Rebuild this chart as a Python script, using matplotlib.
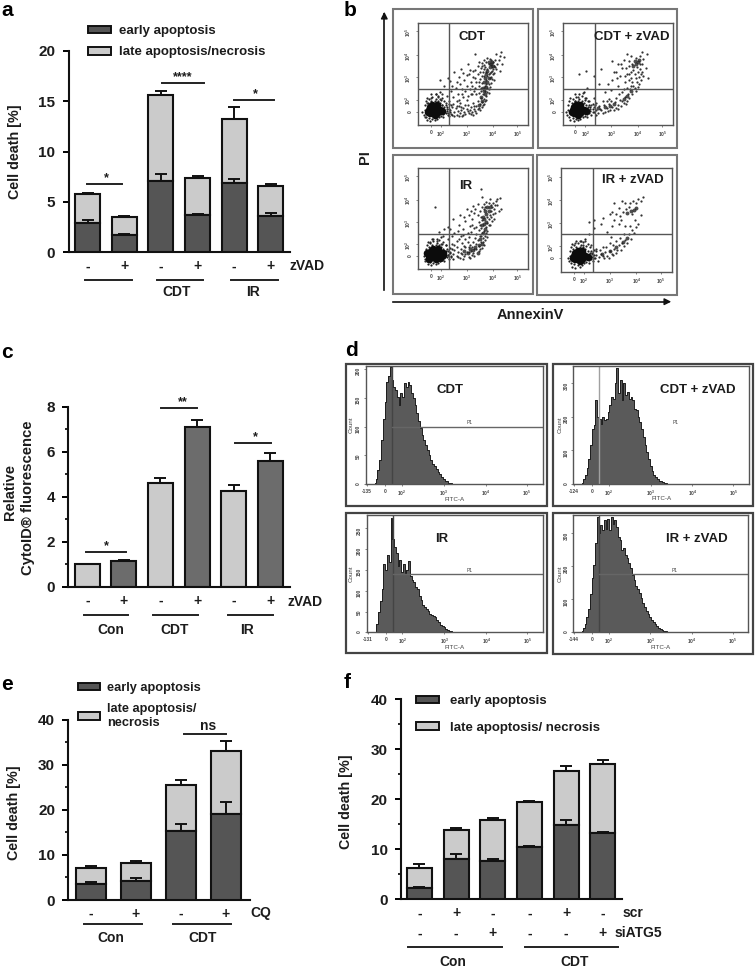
import matplotlib
matplotlib.use("Agg")
import matplotlib.pyplot as plt
from matplotlib.lines import Line2D
from matplotlib.patches import Patch, Rectangle

plt.rcParams['font.family'] = ['Liberation Sans', 'DejaVu Sans']
plt.rcParams['font.weight'] = 'bold'
plt.rcParams['axes.labelweight'] = 'bold'
plt.rcParams['mathtext.default'] = 'regular'

W, H = 756, 969
DARK, LIGHT, MID, INK = '#555555', '#cbcbcb', '#6c6c6c', '#1c1c1c'

# ---- bar data -------------------------------------------------------------
a_signs = ['-', '+', '-', '+', '-', '+']
a_early = [2.9, 1.7, 7.1, 3.7, 6.85, 3.6]
a_early_err = [0.35, 0.1, 0.7, 0.1, 0.45, 0.3]
a_total = [5.8, 3.5, 15.6, 7.4, 13.25, 6.6]
a_total_err = [0.05, 0.15, 0.45, 0.15, 1.15, 0.2]

c_signs = ['-', '+', '-', '+', '-', '+']
c_values = [1.0, 1.15, 4.6, 7.1, 4.25, 5.6]
c_err = [0.02, 0.07, 0.25, 0.3, 0.28, 0.33]

e_signs = ['-', '+', '-', '+']
e_early = [3.6, 4.3, 15.3, 19.0]
e_early_err = [0.5, 0.6, 1.6, 2.8]
e_total = [7.0, 8.2, 25.6, 33.1]
e_total_err = [0.6, 0.4, 1.0, 2.2]

f_scr = ['-', '+', '-', '-', '+', '-']
f_si = ['-', '-', '+', '-', '-', '+']
f_early = [2.3, 8.0, 7.7, 10.5, 14.9, 13.2]
f_early_err = [0.15, 1.0, 0.4, 0.1, 1.0, 0.3]
f_total = [6.2, 13.8, 15.8, 19.5, 25.6, 27.1]
f_total_err = [0.8, 0.5, 0.4, 0.2, 1.0, 0.7]

# ---- flow cytometry dot plots: (annexin, PI), 0-100 ----
blob_core = [(15, 15), (12, 15), (18, 15), (10, 15), (20, 15), (14, 12), (17, 12), (11, 12), (14, 18), (17, 18), (11, 18),
             (15, 10), (13, 20), (17, 20), (22, 14), (9, 13)]
blob_fuzz = [(5, 10), (6, 15), (6, 20), (7, 8), (7, 24), (8, 5), (9, 22), (10, 7), (10, 26), (11, 4), (12, 24), (13, 6), (13, 28),
             (15, 5), (15, 24), (16, 30), (17, 6), (18, 24), (18, 29), (19, 8), (20, 22), (20, 32), (21, 9), (22, 20), (22, 27),
             (23, 11), (24, 18), (24, 24), (25, 12), (25, 20), (26, 14), (26, 18), (27, 10), (28, 16), (28, 21), (29, 13),
             (30, 20), (4, 13), (8, 27), (23, 8), (31, 10), (16, 26), (12, 30), (21, 25)]

cdt_blob = [(x + 0, y + 0) for x, y in blob_core]
cdt_dense = [(65, 57), (63, 53), (66, 60), (62, 50), (60, 42), (61, 30), (58, 24), (55, 20), (64, 46), (68, 58), (62, 37),
             (67, 62), (64, 62), (61, 46), (59, 36), (57, 28), (63, 42), (60, 33)]
cdt_dots = [(24, 14), (26, 16), (27, 12), (29, 15), (30, 11), (31, 18), (33, 13), (34, 17), (35, 10), (36, 14), (37, 19),
            (38, 12), (39, 15), (40, 9), (41, 17), (42, 13), (43, 11), (44, 16), (45, 20), (46, 12), (47, 15), (48, 18),
            (49, 13), (50, 22), (51, 16), (52, 14), (53, 19), (54, 24), (55, 17), (56, 21), (57, 27), (58, 23), (59, 30),
            (60, 26), (61, 33), (62, 29), (63, 36), (59, 35), (64, 40), (62, 44), (65, 46), (60, 48), (66, 52), (63, 55),
            (67, 57), (64, 60), (68, 62), (66, 59), (69, 58), (62, 62), (70, 64), (65, 65), (72, 60), (71, 55), (68, 50),
            (67, 45), (66, 41), (65, 37), (63, 32), (61, 38), (58, 41), (56, 45), (54, 50), (52, 54), (50, 47), (48, 42),
            (46, 50), (44, 38), (42, 44), (40, 35), (38, 40), (36, 30), (34, 36), (32, 28), (30, 33), (28, 24), (26, 29),
            (24, 38), (22, 30), (20, 26), (18, 28), (16, 30), (12, 27), (20, 44), (27, 46), (33, 52), (39, 55), (45, 60),
            (52, 70), (75, 72), (78, 67), (74, 53), (76, 60), (55, 62), (58, 58), (60, 55), (62, 52), (64, 50), (48, 30),
            (52, 36), (55, 31), (44, 25), (37, 25), (41, 28), (53, 42), (57, 36), (25, 22), (22, 20), (8, 22), (6, 8), (28, 9),
            (32, 21), (35, 24), (38, 22), (40, 30), (43, 33), (45, 29), (47, 35), (49, 38), (51, 33), (53, 30), (55, 38),
            (56, 52), (58, 48), (59, 52), (60, 59), (61, 57), (57, 56), (54, 58), (50, 53), (47, 54), (44, 49), (41, 51),
            (37, 47), (35, 42), (31, 38), (29, 43), (60, 36), (62, 40), (64, 35), (63, 48), (65, 51), (67, 53), (69, 51),
            (70, 57), (68, 55), (66, 64), (63, 66), (60, 64), (58, 61), (73, 64), (74, 68), (71, 70), (45, 14), (48, 11),
            (50, 10), (53, 12), (56, 15), (58, 18), (60, 21), (62, 25), (59, 20), (54, 16), (51, 19), (43, 20), (39, 18),
            (35, 19), (41, 10), (37, 9), (33, 9), (57, 33), (61, 24), (64, 31), (66, 47), (69, 44), (55, 42), (52, 46), (49, 30)]

cz_blob = [(x - 1, y) for x, y in blob_core]
cz_dense = [(66, 60), (68, 62), (64, 58), (69, 64), (32, 17), (38, 18), (46, 21), (55, 26), (62, 33), (65, 63), (43, 19), (58, 29)]
cz_dots = [(25, 16), (27, 13), (28, 18), (30, 15), (32, 12), (33, 19), (35, 15), (37, 20), (38, 13), (40, 17), (42, 21),
           (43, 15), (45, 18), (47, 23), (48, 17), (50, 20), (52, 25), (53, 19), (55, 22), (56, 28), (58, 24), (59, 30),
           (60, 27), (61, 35), (63, 30), (64, 38), (66, 33), (67, 42), (68, 37), (69, 47), (71, 44), (72, 52), (73, 48),
           (70, 55), (72, 60), (73, 65), (70, 68), (66, 66), (62, 68), (58, 70), (55, 64), (60, 58), (62, 52), (58, 50),
           (54, 56), (50, 60), (52, 48), (48, 52), (45, 44), (56, 42), (50, 38), (44, 34), (38, 32), (33, 40), (28, 27),
           (24, 24), (20, 27), (18, 31), (14, 28), (11, 24), (22, 36), (15, 50), (21, 53), (28, 48), (35, 55), (45, 63),
           (72, 72), (76, 70), (75, 56), (77, 46), (65, 50), (60, 44), (54, 32), (42, 26), (60, 63), (63, 60), (57, 56),
           (62, 46), (64, 54), (67, 57), (70, 60), (71, 50), (68, 52), (66, 46), (63, 42), (60, 50), (56, 48), (53, 60),
           (49, 46), (46, 52), (41, 40), (36, 24), (40, 24), (44, 24), (48, 27), (51, 30), (55, 35), (58, 36), (62, 38),
           (65, 36), (69, 40), (30, 22), (26, 20), (34, 16), (36, 12), (41, 14), (46, 15), (50, 16), (54, 24), (57, 21)]

ir_blob = [(x + 1, y) for x, y in blob_core] + [(23, 16), (8, 16), (10, 10), (20, 11)]
ir_dense = [(62, 55), (60, 50), (64, 58), (58, 44), (61, 40), (56, 30), (52, 22), (47, 20), (42, 18), (63, 62), (58, 25), (54, 16),
            (61, 58), (65, 62), (60, 45), (59, 36), (55, 24), (50, 19), (45, 16), (59, 52), (62, 47)]
ir_dots = [(27, 14), (29, 17), (30, 12), (32, 15), (33, 19), (35, 13), (36, 17), (38, 11), (39, 20), (40, 15), (42, 13),
           (43, 22), (44, 17), (46, 12), (47, 24), (48, 18), (49, 14), (50, 27), (51, 20), (53, 25), (54, 29), (55, 23),
           (56, 33), (57, 27), (58, 36), (59, 31), (60, 38), (61, 33), (62, 42), (63, 46), (64, 50), (65, 54), (66, 58),
           (67, 62), (68, 66), (69, 60), (70, 64), (71, 68), (72, 70), (74, 71), (65, 70), (62, 67), (58, 62), (56, 58),
           (60, 60), (57, 52), (55, 47), (53, 42), (51, 56), (49, 50), (47, 43), (45, 36), (43, 48), (41, 40), (39, 33),
           (37, 44), (35, 28), (33, 36), (31, 25), (29, 40), (27, 30), (25, 24), (23, 33), (21, 25), (19, 37), (17, 28),
           (14, 30), (11, 27), (27, 42), (32, 50), (38, 54), (44, 60), (50, 63), (58, 72), (57, 80), (15, 62), (75, 60),
           (67, 48), (65, 44), (63, 38), (61, 29), (58, 21), (55, 18), (50, 16), (45, 27), (40, 26), (35, 22), (24, 40), (6, 8),
           (33, 24), (37, 30), (41, 34), (43, 30), (46, 32), (48, 37), (51, 41), (53, 35), (55, 39), (56, 44), (58, 49),
           (54, 54), (52, 60), (48, 58), (46, 54), (42, 52), (36, 38), (31, 33), (63, 52), (61, 62), (60, 65), (64, 66),
           (66, 64), (68, 55), (69, 50), (70, 56), (66, 52), (64, 44), (62, 36), (59, 27), (57, 33), (53, 20), (49, 22),
           (46, 22), (42, 23), (39, 16), (36, 12), (43, 15), (46, 17), (51, 13), (56, 20), (60, 24), (47, 11), (41, 10),
           (72, 64), (73, 58), (54, 65), (49, 44), (52, 31), (57, 41), (63, 32)]

iz_blob = [(x + 2, y) for x, y in blob_core]
iz_dense = [(63, 59), (66, 60), (60, 57), (68, 62), (50, 24), (56, 29), (60, 33), (44, 20), (37, 17)]
iz_dots = [(26, 14), (28, 17), (30, 13), (32, 16), (34, 14), (36, 17), (38, 15), (40, 19), (42, 15), (44, 20), (46, 17),
           (48, 22), (50, 18), (52, 26), (54, 21), (55, 28), (57, 25), (58, 31), (60, 28), (61, 36), (63, 32), (64, 40),
           (66, 37), (62, 44), (68, 43), (67, 50), (58, 44), (54, 50), (50, 56), (52, 62), (48, 66), (46, 58), (55, 68),
           (58, 66), (62, 66), (65, 68), (68, 66), (70, 70), (72, 68), (74, 72), (52, 46), (46, 44), (42, 38), (36, 46),
           (30, 42), (25, 36), (22, 30), (27, 26), (20, 26), (17, 30), (13, 28), (25, 48), (30, 50), (38, 52), (44, 56),
           (72, 55), (70, 46), (44, 28), (38, 24), (32, 22), (59, 61), (61, 63), (64, 56), (56, 58), (53, 54), (48, 50),
           (45, 34), (50, 30), (53, 33), (57, 36), (47, 26), (41, 24), (35, 21), (39, 13), (43, 13), (47, 16), (51, 21)]

# ---- histograms: counts read at 1% steps of the axis width, from 5% onward -
h_start = 5
h_cdt = [2, 10, 25, 42, 77, 114, 143, 178, 187, 204, 181, 169, 163, 152, 138, 158, 152, 175, 169, 178, 172, 158, 149, 138,
         123, 109, 97, 86, 77, 68, 60, 51, 42, 35, 31, 26, 22, 18, 13, 9, 6, 5, 3, 2, 1, 1]
h_cdt_z = [3, 15, 28, 48, 75, 115, 165, 175, 250, 200, 195, 180, 200, 190, 195, 215, 235, 260, 255, 300, 345, 270, 310, 250,
           300, 265, 275, 255, 260, 250, 225, 220, 200, 185, 165, 140, 115, 95, 75, 55, 38, 28, 20, 14, 10, 8, 5, 4, 3, 1]
h_ir = [3, 20, 48, 75, 105, 165, 150, 185, 170, 275, 225, 205, 190, 160, 175, 145, 165, 140, 150, 172, 135, 125, 120, 110,
        105, 88, 78, 66, 60, 55, 52, 45, 42, 38, 36, 30, 24, 18, 15, 12, 9, 6, 4, 2, 1]
h_ir_z = [3, 12, 25, 45, 70, 115, 165, 205, 270, 350, 300, 325, 310, 340, 315, 345, 310, 350, 330, 340, 320, 290, 280, 250,
          255, 235, 225, 210, 195, 175, 160, 140, 130, 118, 105, 90, 78, 65, 55, 45, 38, 30, 24, 18, 14, 10, 7, 4, 3, 1]

fig = plt.figure(figsize=(W / 100, H / 100), dpi=100, facecolor='white')


def ax_px(l, t, r, b):
    return fig.add_axes([l / W, 1 - b / H, (r - l) / W, (b - t) / H])


def label(x, y, s, size=9.5, ha='center', rot=0, weight='bold', color=INK):
    fig.text(x / W, 1 - y / H, s, ha=ha, va='center', fontsize=size, rotation=rot,
             fontweight=weight, color=color, rotation_mode='anchor' if rot else 'default')


def rule(x0, x1, y, lw=1.4, color='#222222'):
    fig.add_artist(Line2D([x0 / W, x1 / W], [1 - y / H, 1 - y / H], color=color, lw=lw))


def sig(x0, x1, y, s, xs, size=9):
    rule(x0, x1, y)
    label(xs, y - (6 if s != 'ns' else 8), s, size=size)


def bar_axes(box, first, step, top, major, minor, signs, width):
    l, t, r, b = box
    ax = ax_px(l, t, r, b)
    ax.set_xlim((l - first) / step, (r - first) / step)
    ax.set_ylim(0, top)
    ax.patch.set_alpha(0)
    for s in ('top', 'right'):
        ax.spines[s].set_visible(False)
    for s in ('left', 'bottom'):
        ax.spines[s].set_linewidth(1.5)
        ax.spines[s].set_color('#111111')
    ax.set_yticks(major)
    ax.set_yticks(minor, minor=True)
    ax.tick_params(axis='y', which='major', length=4.5, width=1.4, labelsize=11, pad=5, labelcolor=INK)
    ax.tick_params(axis='y', which='minor', length=2.5, width=1.2)
    ax.set_xticks(range(len(signs)), signs)
    ax.tick_params(axis='x', length=0, pad=5, labelsize=10, labelcolor=INK)
    return ax, width / step


def stacked(ax, width, early, early_err, total, total_err):
    x = range(len(early))
    late = [t - e for t, e in zip(total, early)]
    ekw = dict(ecolor='#111111', elinewidth=1.4, capthick=1.4, capsize=4.5, fmt='none')
    ax.bar(x, late, width, bottom=early, color=LIGHT, edgecolor='#111111', linewidth=1.5, zorder=2)
    ax.errorbar(x, total, yerr=[[0] * len(x), total_err], zorder=1, **ekw)
    ax.bar(x, early, width, color=DARK, edgecolor='#111111', linewidth=1.5, zorder=3)
    ax.errorbar(x, early, yerr=[[0] * len(x), early_err], zorder=4, **ekw)


def legend_px(ax, x, y, labels, spacing, pad=0.55, size=9.5):
    h = [Patch(facecolor=DARK, edgecolor='#111111', lw=1.4),
         Patch(facecolor=LIGHT, edgecolor='#111111', lw=1.4)]
    leg = ax.legend(h, labels, loc='upper left', bbox_to_anchor=(x / W, 1 - y / H),
                    bbox_transform=fig.transFigure, frameon=False, fontsize=size,
                    handlelength=1.75, handleheight=0.5, handletextpad=pad,
                    labelspacing=spacing, borderpad=0, borderaxespad=0,
                    labelcolor=INK)
    return leg


# ---- panel a --------------------------------------------------------------
ax, wd = bar_axes((68.5, 51, 290, 252.3), 87.7, 36.6, 20, [0, 5, 10, 15, 20], [], a_signs, 25)
stacked(ax, wd, a_early, a_early_err, a_total, a_total_err)
legend_px(ax, 88.3, 25, ['early apoptosis', 'late apoptosis/necrosis'], 0.72)
ax.set_ylabel('Cell death [%]', fontsize=10.3, color=INK, labelpad=0)
ax.yaxis.set_label_coords((21.7 - 68.5) / 221.5, 0.5)
label(306.7, 265.7, 'zVAD', 10)
for x0, x1 in [(85, 131.7), (156.7, 203.3), (231, 277.7)]:
    rule(x0, x1, 280.3)
label(176.7, 292, 'CDT', 10)
label(253.3, 292, 'IR', 10)
sig(86.7, 122.3, 184.3, '*', 106)
sig(161.7, 204, 83, '****', 183)
sig(234.3, 274.3, 100, '*', 255.7)

# ---- panel c --------------------------------------------------------------
ax, wd = bar_axes((68.3, 406.7, 290, 587), 87.3, 36.6, 8, [0, 2, 4, 6, 8], [1, 3, 5, 7], c_signs, 25)
ax.bar(range(6), c_values, wd, color=[LIGHT, MID] * 3, edgecolor='#111111', linewidth=1.5, zorder=2)
ax.errorbar(range(6), c_values, yerr=[[0] * 6, c_err], fmt='none', ecolor='#111111',
            elinewidth=1.4, capthick=1.4, capsize=4.5, zorder=1)
label(10, 491.7, 'Relative', 10.5, rot=90)
label(28, 498, 'CytoID® fluorescence', 10.7, rot=90)
label(305, 601.7, 'zVAD', 10)
for x0, x1 in [(84, 128.3), (153.3, 198.3), (228.3, 272.7)]:
    rule(x0, x1, 614.7)
label(110.7, 630, 'Con', 10)
label(175, 630, 'CDT', 10)
label(247.3, 630, 'IR', 10)
sig(85.7, 126, 552, '*', 106)
sig(161, 196.7, 408.3, '**', 182.7)
sig(235, 270.7, 443, '*', 255)

# ---- panel e --------------------------------------------------------------
ax, wd = bar_axes((68.3, 719.7, 250, 900), 91, 45, 40, [0, 10, 20, 30, 40], [5, 15, 25, 35], e_signs, 30.7)
stacked(ax, wd, e_early, e_early_err, e_total, e_total_err)
legend_px(ax, 77.7, 682, ['early apoptosis', 'late apoptosis/\nnecrosis'], 0.72, size=9.2)
ax.set_ylabel('Cell death [%]', fontsize=10.3, color=INK)
ax.yaxis.set_label_coords((20.7 - 68.3) / 181.7, 0.485)
label(261, 913, 'CQ', 10)
rule(84, 141.7, 924)
rule(172.7, 230.7, 924)
label(110.7, 937.7, 'Con', 10)
label(202.3, 937.7, 'CDT', 10)
sig(184, 225.7, 734, 'ns', 208, size=10)

# ---- panel f --------------------------------------------------------------
ax, wd = bar_axes((401, 699.3, 621.7, 899.3), 419.3, 36.7, 40, [0, 10, 20, 30, 40], [5, 15, 25, 35], f_scr, 25)
stacked(ax, wd, f_early, f_early_err, f_total, f_total_err)
legend_px(ax, 416, 695, ['early apoptosis', 'late apoptosis/ necrosis'], 1.1, pad=0.85)
ax.set_ylabel('Cell death [%]', fontsize=10.3, color=INK)
ax.yaxis.set_label_coords((352.7 - 401) / 220.7, 0.49)
for i, s in enumerate(f_si):
    label(ax.transData.transform((i, 0))[0], 933.3, s, 10)
label(622.3, 913.3, 'scr', 10, ha='left')
label(615, 933.3, 'siATG5', 10, ha='left')
rule(407.7, 501.7, 946.7)
rule(525, 618.3, 946.7)
label(453.3, 962.3, 'Con', 10)
label(575, 962.3, 'CDT', 10)


# ---- panel b --------------------------------------------------------------
def frame(l, t, r, b, color='#777777', lw=1.5):
    fig.add_artist(Rectangle((l / W, 1 - b / H), (r - l) / W, (b - t) / H, fill=False,
                             edgecolor=color, lw=lw, transform=fig.transFigure))


def dot_panel(outer, inner, gate_x, gate_y, blob, dense, dots, name, name_xy, shift):
    frame(*outer)
    ax = ax_px(*inner)
    ax.set_xlim(0, 100)
    ax.set_ylim(0, 100)
    for s in ax.spines.values():
        s.set_color('#555555')
        s.set_linewidth(1.0)
    ax.scatter(*zip(*dots), s=2.6, color='#333333', linewidths=0)
    ax.scatter([p[0] + shift for p in blob_fuzz], [p[1] for p in blob_fuzz], s=2.6, color='#222222', linewidths=0)
    ax.scatter(*zip(*dense), s=8, color='#222222', linewidths=0, alpha=0.8)
    ax.scatter(*zip(*blob), s=30, color='#0c0c0c', linewidths=0)
    ax.axvline(gate_x, color='#555555', lw=1.0)
    ax.axhline(gate_y, color='#555555', lw=1.0)
    ax.set_xticks([11.5, 20.5, 44, 68, 90], ['0', '$10^2$', '$10^3$', '$10^4$', '$10^5$'])
    ax.set_yticks([13, 25, 47, 69, 92], ['0', '$10^2$', '$10^3$', '$10^4$', '$10^5$'])
    ax.tick_params(length=1.5, width=0.5, labelsize=3.5, pad=2, color='#555555', labelcolor='#444444')
    ax.tick_params(axis='y', labelrotation=90)
    label(name_xy[0], name_xy[1], name, 9.5)


dot_panel((392.7, 9, 533.3, 148), (418, 23.3, 528.3, 125), 28.4, 35.6, cdt_blob, cdt_dense, cdt_dots, 'CDT', (472.3, 36.7), 0)
dot_panel((538.3, 9, 676.7, 148), (562.7, 23.3, 673.3, 125), 29.2, 35.6, cz_blob, cz_dense, cz_dots, 'CDT + zVAD', (631.7, 36.7), -1)
dot_panel((392.7, 155, 533.3, 294), (418, 168.3, 528.3, 269.3), 28.4, 34.6, ir_blob, ir_dense, ir_dots, 'IR', (465.3, 186), 1)
dot_panel((537.3, 155, 676.7, 295), (561, 168.3, 671.7, 271.7), 29, 36, iz_blob, iz_dense, iz_dots, 'IR + zVAD', (633.3, 180), 2)

fig.add_artist(plt.Line2D([384.3 / W] * 2, [1 - 290 / H, 1 - 14 / H], color='#111111', lw=1.2))
fig.add_artist(plt.Line2D([392.7 / W, 668 / W], [1 - 301.7 / H] * 2, color='#111111', lw=1.2))
bg = fig.add_axes([0, 0, 1, 1], zorder=-1)
bg.axis('off')
bg.set_xlim(0, W)
bg.set_ylim(H, 0)
bg.annotate('', xy=(384.3, 9), xytext=(384.3, 20), arrowprops=dict(arrowstyle='-|>', color='#111111', lw=1, mutation_scale=10))
bg.annotate('', xy=(674, 301.7), xytext=(662, 301.7), arrowprops=dict(arrowstyle='-|>', color='#111111', lw=1, mutation_scale=10))
label(365, 156.7, 'PI', 10.5, rot=90)
label(530, 315, 'AnnexinV', 10.5)


# ---- panel d --------------------------------------------------------------
def hist_panel(outer, inner, heights, top, yticks, low, gate_x, gate_y, name, name_xy, p1_xy, gate_color='#444444'):
    frame(*outer, color='#444444', lw=1.6)
    ax = ax_px(*inner)
    ax.set_xlim(0, 100)
    ax.set_ylim(0, top)
    for s in ax.spines.values():
        s.set_color('#555555')
        s.set_linewidth(1.0)
    xs = [h_start + i for i in range(len(heights))]
    ax.fill_between(xs, heights, step='mid', color='#5a5a5a', linewidth=0)
    ax.step(xs, heights, where='mid', color='#1e1e1e', lw=0.7)
    ax.axvline(gate_x, color=gate_color, lw=1.0)
    if gate_y is not None:
        ax.plot([gate_x, 100], [gate_y, gate_y], color='#666666', lw=1.0)
    ax.set_xticks([0.5, 10.8, 20.2, 44, 67.7, 91], [low, '0', '$10^2$', '$10^3$', '$10^4$', '$10^5$'])
    ax.set_yticks(yticks)
    ax.tick_params(length=1.5, width=0.5, labelsize=3.5, pad=2, color='#555555', labelcolor='#444444')
    ax.tick_params(axis='y', labelrotation=90)
    label(name_xy[0], name_xy[1], name, 9.5)
    label(p1_xy[0], p1_xy[1], 'P1', 3.5, weight='normal', color='#444444')
    label((inner[0] + inner[2]) / 2 - 0, inner[3] + 15, 'FITC-A', 4.5, weight='normal', color='#444444')
    label(outer[0] + (5 if outer[0] < 500 else 7), (inner[1] + inner[3]) / 2, 'Count', 4.5, rot=90, weight='normal', color='#444444')


hist_panel((346, 364, 546.7, 505.7), (366, 366, 542.7, 484.3), h_cdt, 205, [0, 50, 100, 150, 200], '-135', 14.5, 100,
           'CDT', (450, 390), (469.3, 422.7))
hist_panel((552.7, 364, 753.3, 505.7), (573.3, 366, 749.3, 484), h_cdt_z, 352, [0, 100, 200, 300], '-124', 14.7, None,
           'CDT + zVAD', (697.3, 390), (676, 422.7), gate_color='#a0a0a0')
hist_panel((346, 512.7, 546.7, 652.7), (366.7, 515, 543.3, 632.3), h_ir, 282, [0, 50, 100, 150, 200, 250], '-131', 15, 141,
           'IR', (441.7, 539), (470, 570.7))
hist_panel((552.7, 512.7, 753.3, 654), (573.3, 515, 748.3, 632.3), h_ir_z, 356, [0, 100, 200, 300], '-144', 14.8, 178,
           'IR + zVAD', (696.7, 539), (675, 570.7))

# ---- panel letters --------------------------------------------------------
for s, x, y in [('a', 7, 11), ('b', 350, 10), ('c', 7, 352), ('d', 351, 351), ('e', 7, 685), ('f', 347, 683)]:
    label(x, y, s, 15, color='#000000')

fig.savefig('out.png', dpi=100, facecolor='white')
